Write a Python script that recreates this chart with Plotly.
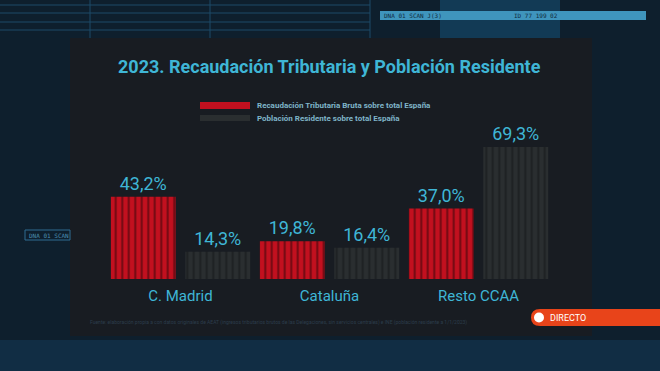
import plotly.graph_objects as go

categories = ["C. Madrid", "Cataluña", "Resto CCAA"]
recaudacion = [43.2, 19.8, 37.0]
poblacion = [14.3, 16.4, 69.3]
series_names = ["Recaudación Tributaria Bruta sobre total España",
                "Población Residente sobre total España"]
title_text = "2023. Recaudación Tributaria y Población Residente"
footnote = ("Fuente: elaboración propia a con datos originales de AEAT (ingresos tributarios brutos "
            "de las Delegaciones, sin servicios centrales) e INE (población residente a 1/1/2023)")

def fmt(v):
    return f"{v:.1f}".replace(".", ",") + "%"

FONT = "Roboto, sans-serif"
CYAN = "#3fb6d6"
W, H = 660, 371
ML, MR, MT, MB = 106, 107, 100, 92
PW, PH = W - ML - MR, H - MT - MB

fig = go.Figure()
fig.add_trace(go.Bar(
    x=categories, y=recaudacion, name=series_names[0],
    text=[fmt(v) for v in recaudacion], textposition="outside",
    textfont=dict(family=FONT, size=18, color=CYAN),
    marker=dict(color="#c2101f", line=dict(width=0),
                pattern=dict(shape="|", fgcolor="#6e0a12", bgcolor="#c2101f",
                             size=6.5, solidity=0.3, fillmode="replace")),
    cliponaxis=False, showlegend=False,
))
fig.add_trace(go.Bar(
    x=categories, y=poblacion, name=series_names[1],
    text=[fmt(v) for v in poblacion], textposition="outside",
    textfont=dict(family=FONT, size=18, color=CYAN),
    marker=dict(color="#272b2d", line=dict(width=0),
                pattern=dict(shape="|", fgcolor="#1d2022", bgcolor="#2a2e30",
                             size=6.5, solidity=0.3, fillmode="replace")),
    cliponaxis=False, showlegend=False,
))

def px(x):
    return (x - ML) / PW

def py(y):
    return (H - MB - y) / PH

shapes = []
# tech background elements
shapes.append(dict(type="rect", xref="paper", yref="paper", x0=px(0), x1=px(W), y0=py(H), y1=py(340),
                   fillcolor="#112d44", line=dict(width=0), layer="below"))
shapes.append(dict(type="rect", xref="paper", yref="paper", x0=px(440), x1=px(560), y0=py(38), y1=py(0),
                   fillcolor="#123a55", line=dict(width=0), layer="below"))
shapes.append(dict(type="rect", xref="paper", yref="paper", x0=px(380), x1=px(646), y0=py(20), y1=py(11),
                   fillcolor="#3f95bd", line=dict(width=0), layer="below"))
for yy in [5, 13, 22, 30]:
    shapes.append(dict(type="line", xref="paper", yref="paper", x0=px(0), x1=px(370), y0=py(yy), y1=py(yy),
                       line=dict(color="#1d4a68", width=1), layer="below"))
for xx in [90, 210, 370]:
    shapes.append(dict(type="line", xref="paper", yref="paper", x0=px(xx), x1=px(xx), y0=py(0), y1=py(38),
                       line=dict(color="#1d4a68", width=1), layer="below"))
# main panel
shapes.append(dict(type="rect", xref="paper", yref="paper", x0=px(70), x1=px(592), y0=py(336), y1=py(38),
                   fillcolor="#181c22", line=dict(width=0), layer="below"))
# legend swatches
shapes.append(dict(type="rect", xref="paper", yref="paper", x0=px(200), x1=px(250), y0=py(109), y1=py(102),
                   fillcolor="#c2101f", line=dict(width=0)))
shapes.append(dict(type="rect", xref="paper", yref="paper", x0=px(200), x1=px(250), y0=py(121), y1=py(115),
                   fillcolor="#2a2e30", line=dict(width=0)))
# DIRECTO badge
shapes.append(dict(type="path", xref="paper", yref="paper",
                   path=f"M {px(540)},{py(309)} L {px(662)},{py(309)} L {px(662)},{py(326)} L {px(540)},{py(326)} "
                        f"Q {px(531)},{py(326)} {px(531)},{py(317.5)} Q {px(531)},{py(309)} {px(540)},{py(309)} Z",
                   fillcolor="#e8441a", line=dict(width=0)))
shapes.append(dict(type="circle", xref="paper", yref="paper", x0=px(534), x1=px(544), y0=py(322.5), y1=py(312.5),
                   fillcolor="white", line=dict(width=0)))
shapes.append(dict(type="rect", xref="paper", yref="paper", x0=px(25), x1=px(70), y0=py(240), y1=py(230),
                   fillcolor="rgba(0,0,0,0)", line=dict(color="#2e6d92", width=1), layer="below"))

annotations = [
    dict(text=f"<b>{title_text}</b>", x=px(329), y=py(67), xref="paper", yref="paper",
         showarrow=False, font=dict(family=FONT, size=18, color=CYAN), xanchor="center", yanchor="middle"),
    dict(text=f"<b>{series_names[0]}</b>", x=px(255), y=py(105.5), xref="paper", yref="paper", showarrow=False,
         font=dict(family=FONT, size=8, color="#7fb4c8"), xanchor="left", yanchor="middle"),
    dict(text=f"<b>{series_names[1]}</b>", x=px(255), y=py(118), xref="paper", yref="paper", showarrow=False,
         font=dict(family=FONT, size=8, color="#7fb4c8"), xanchor="left", yanchor="middle"),
    dict(text=footnote, x=px(88), y=py(322), xref="paper", yref="paper", showarrow=False,
         font=dict(family=FONT, size=5, color="#2c3c4c"), xanchor="left", yanchor="middle"),
    dict(text="DIRECTO", x=px(548), y=py(317.5), xref="paper", yref="paper", showarrow=False,
         font=dict(family=FONT, size=9, color="white"), xanchor="left", yanchor="middle"),
    dict(text="DNA 01 SCAN J(3)", x=px(382), y=py(15.5), xref="paper", yref="paper", showarrow=False,
         font=dict(family="DejaVu Sans Mono, monospace", size=6, color="#0f2a3c"), xanchor="left", yanchor="middle"),
    dict(text="ID 77 199 02", x=px(512), y=py(15.5), xref="paper", yref="paper", showarrow=False,
         font=dict(family="DejaVu Sans Mono, monospace", size=6, color="#0f2a3c"), xanchor="left", yanchor="middle"),
    dict(text="DNA 01 SCAN", x=px(27), y=py(235), xref="paper", yref="paper", showarrow=False,
         font=dict(family="DejaVu Sans Mono, monospace", size=6, color="#4c8fb2"), xanchor="left", yanchor="middle"),
]

fig.update_layout(
    width=W, height=H,
    margin=dict(l=ML, r=MR, t=MT, b=MB),
    paper_bgcolor="#0e1f2d", plot_bgcolor="rgba(0,0,0,0)",
    barmode="group", bargap=0, bargroupgap=0.13,
    shapes=shapes, annotations=annotations,
    showlegend=False,
    xaxis=dict(showgrid=False, zeroline=False, showline=False, ticks="",
               tickfont=dict(family=FONT, size=15, color=CYAN), ticklabelstandoff=6),
    yaxis=dict(range=[0, 94], visible=False, showgrid=False, zeroline=False),
)

fig.write_html("out.html", config={"displayModeBar": False},
               post_script="document.body.style.margin='0';")
